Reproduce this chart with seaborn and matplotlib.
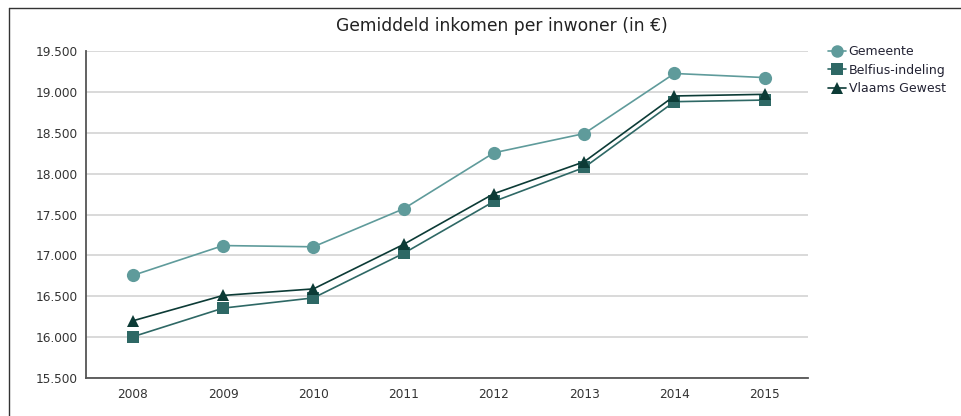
import matplotlib
matplotlib.use("Agg")
import matplotlib.pyplot as plt
from matplotlib.lines import Line2D
import seaborn as sns
import pandas as pd

years = ["2008", "2009", "2010", "2011", "2012", "2013", "2014", "2015"]
gemeente = [16755, 17120, 17105, 17570, 18255, 18490, 19225, 19175]
belfius = [16005, 16355, 16480, 17025, 17660, 18075, 18880, 18900]
vlaams = [16200, 16510, 16590, 17135, 17755, 18145, 18950, 18970]
series_names = ["Gemeente", "Belfius-indeling", "Vlaams Gewest"]
y_ticks = [15500, 16000, 16500, 17000, 17500, 18000, 18500, 19000, 19500]
title = "Gemiddeld inkomen per inwoner (in €)"

sns.set_theme(style="white")
plt.rcParams['font.family'] = ['DejaVu Sans']

rows = []
for name, vals in zip(series_names, [gemeente, belfius, vlaams]):
    for i, (y, v) in enumerate(zip(years, vals)):
        rows.append({"pos": i, "jaar": y, "waarde": v, "reeks": name})
df = pd.DataFrame(rows)

colors = {"Gemeente": "#5f9b9b", "Belfius-indeling": "#2e6865", "Vlaams Gewest": "#0c3b36"}
markers = {"Gemeente": "o", "Belfius-indeling": "s", "Vlaams Gewest": "^"}
msize = {"Gemeente": 9.5, "Belfius-indeling": 8.5, "Vlaams Gewest": 8.5}
zorder = {"Gemeente": 5, "Belfius-indeling": 3, "Vlaams Gewest": 4}

fig = plt.figure(figsize=(9.61, 4.16), dpi=100)
ax = fig.add_axes([86/961, 1-378/416, (808-86)/961, (378-51)/416])

for name in ["Belfius-indeling", "Vlaams Gewest", "Gemeente"]:
    sub = df[df["reeks"] == name]
    sns.lineplot(data=sub, x="pos", y="waarde", ax=ax, color=colors[name],
                 marker=markers[name], markersize=msize[name], markeredgewidth=0,
                 linewidth=1.2, zorder=zorder[name], legend=False)

ax.set_xlim(-0.52, 7.48)
ax.set_ylim(15500, 19500)
ax.set_xticks(range(len(years)))
ax.set_xticklabels(years)
ax.set_yticks(y_ticks)
ax.set_yticklabels([f"{t:,}".replace(",", ".") for t in y_ticks])
ax.set_xlabel("")
ax.set_ylabel("")
ax.tick_params(axis="both", length=0, labelsize=8.7, colors="#333333")
ax.tick_params(axis="y", pad=6)
ax.tick_params(axis="x", pad=7)
ax.grid(axis="y", color="#d9d9d9", linewidth=1.4)
ax.grid(axis="x", visible=False)
for s in ["top", "right"]:
    ax.spines[s].set_visible(False)
for s in ["left", "bottom"]:
    ax.spines[s].set_color("#555555")
    ax.spines[s].set_linewidth(1.3)
ax.set_axisbelow(True)

fig.text(502/961, 1-26/416, title, ha="center", va="center", fontsize=12.3, color="#222222")

handles = [Line2D([0], [0], color=colors[n], marker=markers[n], markersize=msize[n] - 0.5,
                  markeredgewidth=0, linewidth=1.2) for n in series_names]
fig.legend(handles, series_names, loc="upper left", bbox_to_anchor=(828/961, 1-45/416),
           frameon=False, fontsize=9, handlelength=1.4, handletextpad=0.25,
           labelspacing=0.45, borderaxespad=0, borderpad=0, labelcolor="#222233")

# outer frame (top and left edges visible)
fig.add_artist(Line2D([9/961, 9/961], [0, 1-8/416], transform=fig.transFigure, color="#333333", linewidth=1.0))
fig.add_artist(Line2D([9/961, 1], [1-8/416, 1-8/416], transform=fig.transFigure, color="#333333", linewidth=1.0))

fig.savefig("out.png", dpi=100)
